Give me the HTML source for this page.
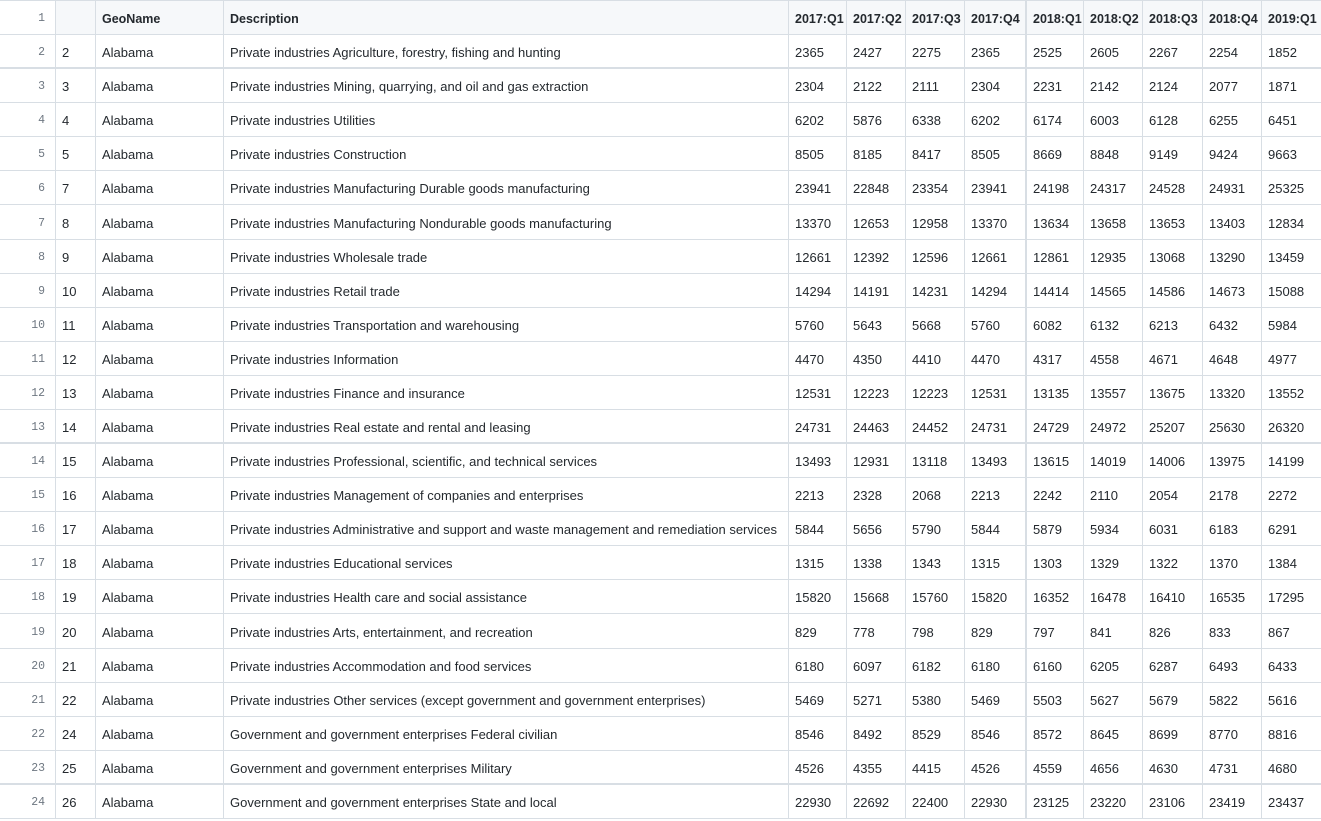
<!DOCTYPE html>
<html><head><meta charset="utf-8"><style>
body{margin:0;width:1321px;height:821px;overflow:hidden;background:#fff;font-family:"Liberation Sans",sans-serif;}
#t{position:relative;width:1321px;height:821px;}
.c{position:absolute;box-sizing:border-box;font-size:13px;color:#24292e;padding-left:6px;padding-top:3px;white-space:nowrap;display:flex;align-items:center;border-left:1px solid #d8dee4;overflow:hidden;}
.h{background:#f6f8fa;font-weight:bold;font-size:12.5px;}
.ln{position:absolute;box-sizing:border-box;padding-top:3px;font-family:"Liberation Mono",monospace;font-size:11.5px;color:#6e7781;text-align:right;width:45px;left:0;display:flex;align-items:center;justify-content:flex-end;}
.hl{position:absolute;left:0;width:1321px;background:#d8dee4;}
</style></head><body><div id="t"></div>
<script>
const headers=["","GeoName","Description","2017:Q1","2017:Q2","2017:Q3","2017:Q4","2018:Q1","2018:Q2","2018:Q3","2018:Q4","2019:Q1"];
const ids=[2,3,4,5,7,8,9,10,11,12,13,14,15,16,17,18,19,20,21,22,24,25,26];
const descs=["Private industries Agriculture, forestry, fishing and hunting","Private industries Mining, quarrying, and oil and gas extraction","Private industries Utilities","Private industries Construction","Private industries Manufacturing Durable goods manufacturing","Private industries Manufacturing Nondurable goods manufacturing","Private industries Wholesale trade","Private industries Retail trade","Private industries Transportation and warehousing","Private industries Information","Private industries Finance and insurance","Private industries Real estate and rental and leasing","Private industries Professional, scientific, and technical services","Private industries Management of companies and enterprises","Private industries Administrative and support and waste management and remediation services","Private industries Educational services","Private industries Health care and social assistance","Private industries Arts, entertainment, and recreation","Private industries Accommodation and food services","Private industries Other services (except government and government enterprises)","Government and government enterprises Federal civilian","Government and government enterprises Military","Government and government enterprises State and local"];
const values=[
[2365,2427,2275,2365,2525,2605,2267,2254,1852],
[2304,2122,2111,2304,2231,2142,2124,2077,1871],
[6202,5876,6338,6202,6174,6003,6128,6255,6451],
[8505,8185,8417,8505,8669,8848,9149,9424,9663],
[23941,22848,23354,23941,24198,24317,24528,24931,25325],
[13370,12653,12958,13370,13634,13658,13653,13403,12834],
[12661,12392,12596,12661,12861,12935,13068,13290,13459],
[14294,14191,14231,14294,14414,14565,14586,14673,15088],
[5760,5643,5668,5760,6082,6132,6213,6432,5984],
[4470,4350,4410,4470,4317,4558,4671,4648,4977],
[12531,12223,12223,12531,13135,13557,13675,13320,13552],
[24731,24463,24452,24731,24729,24972,25207,25630,26320],
[13493,12931,13118,13493,13615,14019,14006,13975,14199],
[2213,2328,2068,2213,2242,2110,2054,2178,2272],
[5844,5656,5790,5844,5879,5934,6031,6183,6291],
[1315,1338,1343,1315,1303,1329,1322,1370,1384],
[15820,15668,15760,15820,16352,16478,16410,16535,17295],
[829,778,798,829,797,841,826,833,867],
[6180,6097,6182,6180,6160,6205,6287,6493,6433],
[5469,5271,5380,5469,5503,5627,5679,5822,5616],
[8546,8492,8529,8546,8572,8645,8699,8770,8816],
[4526,4355,4415,4526,4559,4656,4630,4731,4680],
[22930,22692,22400,22930,23125,23220,23106,23419,23437]];
const colX=[55,95,223,788,846,905,964,1025,1083,1142,1202,1261,1330];
const RH=34.08;
const t=document.getElementById('t');
function rowTop(i){return Math.round(RH*i);}
function addLine(y,h){const l=document.createElement('div');l.className='hl';l.style.top=y+'px';l.style.height=h+'px';


t.appendChild(l);}
function addRow(i,cells,isHead){
  const top=rowTop(i),h=rowTop(i+1)-top;
  const ln=document.createElement('div');ln.className='ln';ln.style.top=top+'px';ln.style.height=h+'px';ln.textContent=i+1;
  
  
  t.appendChild(ln);
  cells.forEach((v,j)=>{
    const c=document.createElement('div');c.className='c'+(isHead?' h':'');
    c.style.left=colX[j]+'px';c.style.width=(colX[j+1]-colX[j])+'px';c.style.top=top+'px';c.style.height=h+'px';
    if(j===7)c.style.borderLeft='2px solid #d8dee4';
    c.textContent=v;
    
    
    t.appendChild(c);
  });
}
addRow(0,headers,true);
ids.forEach((id,i)=>addRow(i+1,[id,"Alabama",descs[i]].concat(values[i]),false));
addLine(0,1);
for(let i=1;i<=24;i++){const thick=(i===2||i===13||i===23);addLine(rowTop(i)-(thick?1:0),thick?2:1);}
</script></body></html>
